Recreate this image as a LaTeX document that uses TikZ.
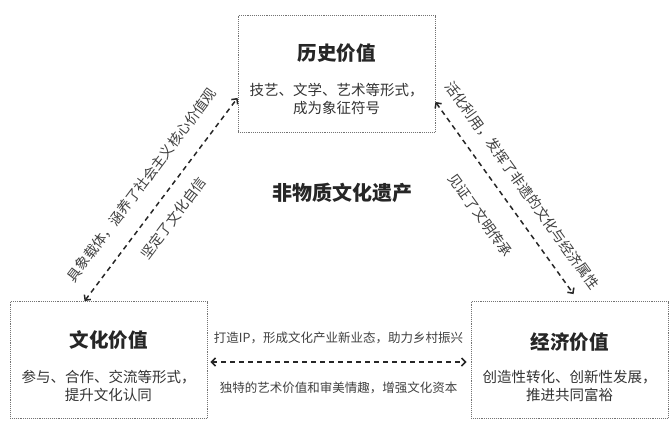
\documentclass[tikz,border=0pt]{standalone}
\usepackage{fontspec}
\setmainfont{Noto Sans CJK SC}
\usepackage{tikz}
\usetikzlibrary{arrows.meta,calc}

\begin{document}
\begin{tikzpicture}[x=1pt, y=-1pt,
    valuebox/.style={draw=black!55, densely dotted, line width=0.9pt, minimum width=197pt, minimum height=117pt, inner sep=0pt},
    valuetitle/.style={font=\fontsize{19.5}{22}\selectfont\bfseries, text=black!85},
    valuetext/.style={font=\fontsize{14.5}{18}\selectfont, text=black!80, align=center},
    link/.style={{Straight Barb[length=4pt,width=8pt]}-{Straight Barb[length=4pt,width=8pt]}, dash pattern=on 5pt off 4pt, line width=1.5pt, black!85},
    linklabel/.style={font=\fontsize{14}{16}\selectfont, text=black!75, sloped},
    rowlabel/.style={font=\fontsize{12.5}{14}\selectfont, text=black!75}]
    \useasboundingbox (0,0) rectangle (669,423);
    \node[valuebox] (hist) at (336.5,74) {};
    \node[valuebox] (cult) at (108.5,360) {};
    \node[valuebox] (econ) at (569.5,360) {};
    \node[valuetitle] (histname) at ([yshift=21pt]hist.center) {历史价值};
    \node[valuetext] (histtext) at ([yshift=-25pt]hist.center) {技艺、文学、艺术等形式，\\成为象征符号};
    \node[valuetitle] (cultname) at ([yshift=20pt]cult.center) {文化价值};
    \node[valuetext] (culttext) at ([yshift=-26pt]cult.center) {参与、合作、交流等形式，\\提升文化认同};
    \node[valuetitle] (econname) at ([yshift=18pt]econ.center) {经济价值};
    \node[valuetext] (econtext) at ([yshift=-26pt]econ.center) {创造性转化、创新性发展，\\推进共同富裕};
    \node[font=\fontsize{20}{24}\selectfont\bfseries, text=black!85] (heritage) at (342,193) {非物质文化遗产};
    \coordinate (c1) at ([xshift=75pt]cult.north west);
    \coordinate (h1) at ([yshift=35pt]hist.south west);
    \coordinate (h2) at ([yshift=31pt]hist.south east);
    \coordinate (e1) at ([xshift=103pt,yshift=7pt]econ.north west);
    \coordinate (c2) at ([xshift=3pt,yshift=-2pt]cult.east);
    \coordinate (e2) at ([xshift=-4pt,yshift=-2pt]econ.west);
    \draw[link] (c1) -- (h1)
        node[linklabel, midway, above=13.5pt] (cultout) {具象载体，涵养了社会主义核心价值观}
        node[linklabel, pos=0.47, below=10.5pt] (cultin) {坚定了文化自信};
    \draw[link] (h2) -- (e1)
        node[linklabel, midway, above=11pt] (econout) {活化利用，发挥了非遗的文化与经济属性}
        node[linklabel, midway, below=19pt] (econin) {见证了文明传承};
    \draw[link] (c2) -- (e2)
        node[rowlabel, midway, above=14pt] (rowup) {打造IP，形成文化产业新业态，助力乡村振兴}
        node[rowlabel, midway, below=16pt] (rowdown) {独特的艺术价值和审美情趣，增强文化资本};
\end{tikzpicture}
\end{document}
